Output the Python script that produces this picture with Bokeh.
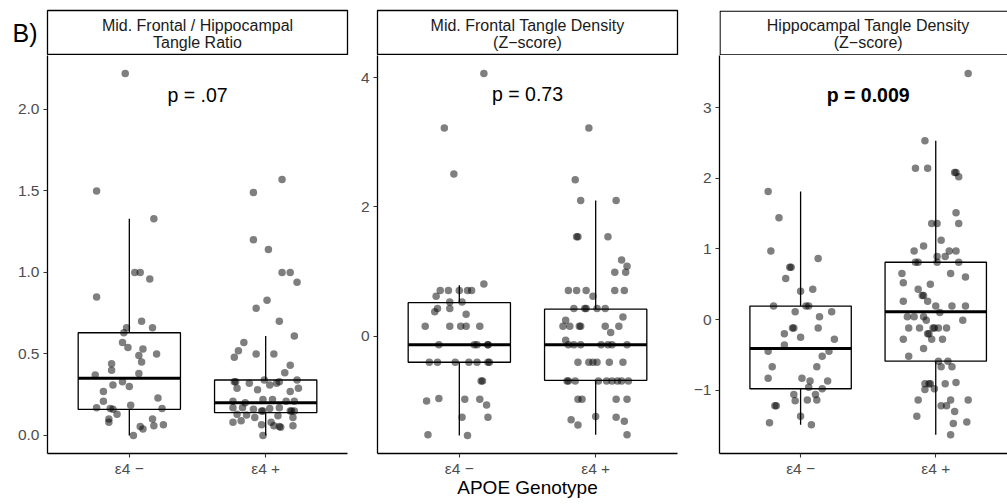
from bokeh.plotting import figure
from bokeh.layouts import row, column
from bokeh.models import Range1d, FixedTicker, LinearAxis
from bokeh.embed import file_html
from bokeh.resources import INLINE
from bokeh.core.properties import value

FONT = "Liberation Sans"

# ---------------- data ----------------
groups = ["ε4 −", "ε4 +"]
group_pos = [1, 2]

strip_titles = [
    ["Mid. Frontal / Hippocampal", "Tangle Ratio"],
    ["Mid. Frontal Tangle Density", "(Z−score)"],
    ["Hippocampal Tangle Density", "(Z−score)"],
]
panel_tag = "B)"
p_labels = ["p = .07", "p = 0.73", "p = 0.009"]
p_label_y = [2.09, 3.74, 3.18]
p_label_bold = [False, False, True]

# Panel 1: Mid. Frontal / Hippocampal tangle ratio
ratio_neg_y = [2.22, 1.50, 1.33, 1.00, 1.00, 0.96, 0.85, 0.70, 0.66, 0.66, 0.63, 0.57, 0.54, 0.53,
               0.50, 0.49, 0.45, 0.44, 0.40, 0.37, 0.38, 0.33, 0.31, 0.30, 0.27, 0.21, 0.23, 0.17,
               0.185, 0.165, 0.16, 0.165, 0.13, 0.10, 0.08, 0.10, 0.055, 0.04, 0.06, 0.065, 0.0]
ratio_neg_jit = [-0.03, -0.24, 0.18, 0.04, 0.08, 0.15, -0.24, 0.09, -0.02, 0.17, -0.04, -0.05, -0.01, 0.10,
                 0.20, 0.07, 0.09, -0.13, -0.13, -0.25, 0.07, -0.05, -0.12, 0.00, -0.19, -0.19, 0.21, -0.24,
                 0.01, -0.14, -0.12, 0.24, -0.09, -0.15, -0.15, 0.17, 0.08, 0.10, 0.18, 0.25, 0.03]
ratio_pos_y = [1.57, 1.49, 1.20, 1.14, 1.00, 1.00, 0.94, 0.83, 0.78, 0.70, 0.61, 0.57, 0.52, 0.48,
               0.50, 0.50, 0.43, 0.385, 0.33, 0.34, 0.33, 0.34, 0.29, 0.32, 0.28, 0.31, 0.32, 0.27,
               0.29, 0.21, 0.20, 0.22, 0.22, 0.21, 0.21, 0.17, 0.17, 0.16, 0.15, 0.165, 0.17, 0.15,
               0.15, 0.13, 0.125, 0.11, 0.12, 0.11, 0.08, 0.09, 0.065, 0.08, 0.055, 0.06, 0.0, 0.06,
               0.33, 0.15, 0.15, 0.05]
ratio_pos_jit = [0.12, -0.09, -0.09, 0.02, 0.12, 0.18, 0.23, 0.01, -0.07, 0.10, 0.21, -0.16, -0.20, -0.23,
                 -0.07, 0.06, 0.18, 0.14, -0.23, -0.01, 0.10, 0.23, -0.21, -0.12, -0.06, 0.03, 0.08, 0.18,
                 0.24, -0.24, -0.15, -0.02, 0.05, 0.15, 0.21, -0.24, -0.17, -0.09, -0.03, 0.03, 0.10, 0.18,
                 0.21, -0.21, -0.14, -0.08, 0.09, 0.20, -0.24, -0.18, -0.03, 0.04, 0.10, 0.20, -0.02, 0.06,
                 -0.22, -0.02, 0.19, 0.11]
ratio_q1 = [0.16, 0.14]
ratio_med = [0.35, 0.20]
ratio_q3 = [0.63, 0.34]
ratio_lo = [0.0, 0.0]
ratio_hi = [1.33, 0.61]

# Panel 2: Mid. Frontal tangle density (z)
mf_neg_y = [4.06, 3.22, 2.51, 0.81, 0.71, 0.71, 0.71, 0.71, 0.71, 0.62, 0.53, 0.53, 0.43, 0.43,
            0.38, 0.34, 0.155, 0.155, 0.155, 0.155, 0.155, -0.13, -0.13, -0.13, -0.13, -0.13,
            -0.40, -0.40, -0.40, -0.40, -0.40, -0.40, -0.40, -0.69, -0.69, -1.00, -0.96, -0.97,
            -0.97, -1.06, -1.25, -1.25, -1.52, -1.53]
mf_neg_jit = [0.18, -0.11, -0.04, 0.18, -0.14, -0.08, 0.00, 0.06, 0.09, -0.17, -0.07, 0.02, -0.16, -0.07,
              -0.18, 0.05, -0.25, -0.07, 0.01, 0.05, 0.15, -0.15, 0.11, 0.13, 0.21, 0.21,
              -0.22, -0.16, -0.03, 0.07, 0.13, 0.21, 0.22, 0.16, 0.17, -0.24, -0.15, 0.04,
              0.15, 0.20, 0.02, 0.21, -0.23, 0.06]
mf_pos_y = [3.22, 2.42, 2.10, 2.10, 1.54, 1.54, 1.54, 1.18, 1.085, 0.99, 0.99, 0.71, 0.71, 0.71, 0.71,
            0.71, 0.62, 0.43, 0.43, 0.43, 0.43, 0.43, 0.30, 0.25, 0.155, 0.155, 0.155, 0.155, 0.155,
            0.155, 0.06, -0.06, -0.13, -0.13, -0.13, -0.13, -0.13, -0.13, -0.13, -0.40, -0.40, -0.40,
            -0.40, -0.40, -0.40, -0.69, -0.69, -0.69, -0.69, -0.69, -0.69, -0.69, -0.69, -0.69,
            -0.97, -0.97, -0.97, -0.97, -1.24, -1.29, -1.37, -1.25, -1.31, -1.52]
mf_pos_jit = [-0.05, -0.15, -0.11, 0.15, -0.14, -0.13, 0.09, 0.19, 0.23, 0.14, 0.22, -0.20, -0.14, -0.07, 0.14,
              0.21, -0.02, -0.16, -0.08, -0.07, 0.01, 0.07, 0.20, -0.22, -0.24, -0.19, -0.11, -0.12, 0.07,
              0.17, 0.11, -0.22, -0.20, -0.16, -0.11, 0.04, 0.09, 0.12, 0.23, -0.13, -0.05, -0.02,
              0.01, 0.10, 0.20, -0.21, -0.20, -0.15, 0.02, 0.08, 0.12, 0.16, 0.19, 0.24,
              -0.13, -0.10, 0.15, 0.23, 0.00, -0.18, -0.13, 0.15, 0.21, 0.23]
mf_q1 = [-0.40, -0.68]
mf_med = [-0.13, -0.13]
mf_q3 = [0.52, 0.42]
mf_lo = [-1.53, -1.52]
mf_hi = [0.79, 2.10]

# Panel 3: Hippocampal tangle density (z)
hc_neg_y = [1.81, 1.44, 0.97, 0.74, 0.74, 0.865, 0.58, 0.40, 0.43, 0.19, 0.19, 0.19, 0.11, 0.11,
            0.04, -0.12, -0.12, -0.12, -0.20, -0.25, -0.28, -0.36, -0.45, -0.45, -0.52, -0.67,
            -0.67, -0.83, -0.83, -0.87, -0.87, -0.96, -0.98, -1.06, -1.06, -1.15, -1.14, -1.14,
            -1.22, -1.22, -1.37, -1.46, -1.49]
hc_neg_jit = [-0.24, -0.16, -0.22, -0.08, -0.07, 0.13, -0.11, 0.00, 0.09, -0.20, 0.04, 0.06, -0.04, 0.23,
              0.14, -0.06, -0.05, 0.13, -0.12, 0.00, 0.25, -0.12, -0.24, 0.21, 0.16, -0.21,
              0.12, -0.24, 0.01, 0.07, 0.20, 0.06, 0.16, -0.05, 0.11, -0.04, 0.05, 0.12,
              -0.18, -0.19, 0.00, -0.23, 0.08]
hc_pos_y = [3.48, 2.53, 2.14, 2.14, 2.08, 2.08, 2.02, 1.51, 1.36, 1.36, 1.36, 1.12, 1.04, 0.97, 0.97,
            0.97, 0.89, 0.89, 0.81, 0.81, 0.81, 0.81, 0.65, 0.65, 0.60, 0.52, 0.50, 0.43, 0.34, 0.34,
            0.26, 0.26, 0.19, 0.19, 0.19, 0.10, 0.04, 0.04, 0.04, -0.01, -0.01, -0.12, -0.12, -0.12,
            -0.12, -0.12, -0.12, -0.20, -0.20, -0.28, -0.28, -0.28, -0.41, -0.52, -0.59, -0.59,
            -0.67, -0.67, -0.91, -0.91, -0.91, -0.99, -0.98, -0.91, -0.89, -1.14, -1.22, -1.22,
            -1.14, -1.14, -1.30, -1.37, -1.47, -1.45, -1.63]
hc_pos_jit = [0.24, -0.08, -0.15, -0.06, 0.14, 0.15, 0.17, 0.15, -0.03, 0.01, 0.17, 0.04, -0.09, -0.16, 0.10,
              0.15, 0.07, 0.01, -0.15, -0.13, 0.01, 0.17, -0.25, 0.11, 0.22, -0.24, -0.04, -0.13, -0.10, -0.09,
              -0.06, -0.24, 0.00, 0.12, 0.22, 0.03, -0.21, -0.16, -0.09, -0.07, 0.20, -0.20, -0.12, -0.02,
              -0.01, 0.02, 0.08, -0.06, -0.05, -0.24, -0.03, 0.05, -0.09, -0.20, 0.02, 0.09,
              0.04, 0.12, -0.08, -0.04, -0.05, -0.08, -0.01, 0.07, 0.15, -0.13, 0.04, 0.08,
              0.11, 0.24, 0.14, -0.14, 0.13, 0.23, 0.11]
hc_q1 = [-0.98, -0.59]
hc_med = [-0.41, 0.11]
hc_q3 = [0.19, 0.81]
hc_lo = [-1.49, -1.63]
hc_hi = [1.81, 2.53]

y_ticks = [[0, 0.5, 1.0, 1.5, 2.0], [0, 2, 4], [-1, 0, 1, 2, 3]]
y_tick_labels = [["0.0", "0.5", "1.0", "1.5", "2.0"], ["0", "2", "4"], ["−1", "0", "1", "2", "3"]]
x_title = "APOE Genotype"

# ---------------- layout constants ----------------
PANEL_H = 449
STRIP_H = 55
BOX_HALF = 0.375


def strip(width, ml, mr, xr, lines, tag=None, open_right=False):
    pad = 0.014 if open_right else 0.0
    s = figure(width=width, height=STRIP_H, x_range=xr, y_range=Range1d(0 - pad, 1 + pad),
               min_border_left=ml, min_border_right=mr, min_border_top=10, min_border_bottom=0,
               x_axis_location=None, y_axis_location=None,
               toolbar_location=None, output_backend="svg")
    s.grid.visible = False
    if open_right:
        # strip box continues past the right edge of the picture
        s.outline_line_color = None
        s.quad(left=[xr.start + 0.004], right=[xr.end + 0.5], bottom=[0], top=[1],
               fill_color="white", line_color="black", line_width=1.3)
    else:
        s.outline_line_color = "black"
        s.outline_line_width = 1.3
    s.text(x=[1.5, 1.5], y=[0.67, 0.29], text=lines, text_align="center", text_baseline="middle",
           text_font=value(FONT), text_font_size="16px", text_color="#1a1a1a")
    if tag:
        tag_axis = LinearAxis(axis_label=tag, axis_label_orientation="horizontal",
                              ticker=FixedTicker(ticks=[]), axis_line_color=None,
                              major_tick_line_color=None, minor_tick_line_color=None,
                              major_label_text_font_size="0px",
                              axis_label_text_font=FONT, axis_label_text_font_size="25px",
                              axis_label_text_font_style="normal", axis_label_text_color="black",
                              axis_label_standoff=10)
        s.add_layout(tag_axis, "left")
    return s


def panel(width, ml, mr, xr, y0, y1, ticks, tick_labels,
          neg_y, neg_jit, pos_y, pos_jit, q1, med, q3, lo, hi,
          plabel, ply, bold, xlab=None):
    p = figure(width=width, height=PANEL_H, x_range=xr, y_range=Range1d(y0, y1),
               min_border_left=ml, min_border_right=mr, min_border_top=0, min_border_bottom=51,
               toolbar_location=None, output_backend="svg")
    p.grid.visible = False
    p.outline_line_color = None
    for ax in (p.xaxis[0], p.yaxis[0]):
        ax.axis_line_color = "black"
        ax.axis_line_width = 1.3
        ax.major_tick_line_color = "#333333"
        ax.major_tick_line_width = 1.1
        ax.major_tick_out = 4
        ax.major_tick_in = 0
        ax.minor_tick_line_color = None
        ax.major_label_text_color = "#4d4d4d"
        ax.major_label_text_font = FONT
        ax.major_label_text_font_size = "15.5px"
    p.xaxis.ticker = FixedTicker(ticks=group_pos)
    p.xaxis.major_label_overrides = {g: t for g, t in zip(group_pos, groups)}
    p.xaxis.major_label_standoff = 2
    p.yaxis.ticker = FixedTicker(ticks=ticks)
    p.yaxis.major_label_overrides = {t: l for t, l in zip(ticks, tick_labels)}
    p.yaxis.major_label_standoff = 4
    if xlab:
        p.xaxis.axis_label = xlab
        p.xaxis.axis_label_text_font = FONT
        p.xaxis.axis_label_text_font_size = "19px"
        p.xaxis.axis_label_text_font_style = "normal"
        p.xaxis.axis_label_text_color = "black"
        p.xaxis.axis_label_standoff = -3

    # boxes
    p.segment(x0=group_pos, y0=q3, x1=group_pos, y1=hi, line_color="black", line_width=1.3)
    p.segment(x0=group_pos, y0=lo, x1=group_pos, y1=q1, line_color="black", line_width=1.3)
    p.quad(left=[g - BOX_HALF for g in group_pos], right=[g + BOX_HALF for g in group_pos],
           bottom=q1, top=q3, fill_color="white", line_color="black", line_width=1.3)
    p.segment(x0=[g - BOX_HALF for g in group_pos], y0=med, x1=[g + BOX_HALF for g in group_pos], y1=med,
              line_color="black", line_width=3)
    # points
    p.scatter(x=[group_pos[0] + j for j in neg_jit], y=neg_y, size=7.5, fill_color="black",
              fill_alpha=0.5, line_color=None)
    p.scatter(x=[group_pos[1] + j for j in pos_jit], y=pos_y, size=7.5, fill_color="black",
              fill_alpha=0.5, line_color=None)
    # p-value
    p.text(x=[1.5], y=[ply], text=[plabel], text_align="center", text_baseline="middle",
           text_font=value(FONT), text_font_size="19.5px", text_color="black",
           text_font_style="bold" if bold else "normal")
    return p


xr1 = Range1d(0.4, 2.6)
xr2 = Range1d(0.4, 2.6)
xr3 = Range1d(0.4, 0.4 + 293 / 137.5)

s1 = strip(352, 47, 5, xr1, strip_titles[0], tag=panel_tag)
p1 = panel(352, 47, 5, xr1, -0.111, 2.331, y_ticks[0], y_tick_labels[0],
           ratio_neg_y, ratio_neg_jit, ratio_pos_y, ratio_pos_jit,
           ratio_q1, ratio_med, ratio_q3, ratio_lo, ratio_hi,
           p_labels[0], p_label_y[0], p_label_bold[0])

s2 = strip(338, 25, 13, xr2, strip_titles[1])
p2 = panel(338, 25, 13, xr2, -1.81, 4.34, y_ticks[1], y_tick_labels[1],
           mf_neg_y, mf_neg_jit, mf_pos_y, mf_pos_jit,
           mf_q1, mf_med, mf_q3, mf_lo, mf_hi,
           p_labels[1], p_label_y[1], p_label_bold[1], xlab=x_title)

s3 = strip(317, 24, 0, xr3, strip_titles[2], open_right=True)
p3 = panel(317, 24, 0, xr3, -1.896, 3.736, y_ticks[2], y_tick_labels[2],
           hc_neg_y, hc_neg_jit, hc_pos_y, hc_pos_jit,
           hc_q1, hc_med, hc_q3, hc_lo, hc_hi,
           p_labels[2], p_label_y[2], p_label_bold[2])

layout = row(column(s1, p1), column(s2, p2), column(s3, p3))

open("out.html", "w").write(file_html(layout, INLINE))
